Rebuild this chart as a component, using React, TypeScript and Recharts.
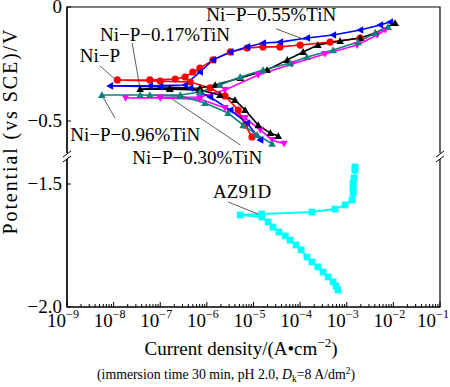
import React from 'react';
import {
  LineChart,
  Line,
  XAxis,
  YAxis,
  ReferenceArea,
  ReferenceLine,
  ReferenceDot,
} from 'recharts';

const W = 450;
const H = 387;
const FONT = '"Liberation Serif", "Times New Roman", serif';

// current density (A/cm2) and potential (V vs SCE), in sweep order
const NIP_I = [9.3e-6, 6.6e-6, 4.7e-6, 2.45e-6, 1.17e-6, 4.4e-7, 1.0e-7, 1.2e-8, 6.0e-8, 2.1e-7, 3.4e-7, 5.0e-7, 7.1e-7, 1.36e-6, 3.2e-6, 7.3e-6, 1.6e-5, 3.7e-5, 1.0e-4, 4.4e-4, 1.94e-3];
const NIP_E = [-0.57, -0.518, -0.452, -0.39, -0.355, -0.329, -0.325, -0.32, -0.32, -0.316, -0.307, -0.285, -0.268, -0.232, -0.197, -0.18, -0.175, -0.175, -0.167, -0.154, -0.136];

const TIN055_I = [1.4e-5, 7.3e-6, 3.2e-6, 1.17e-6, 4.4e-7, 1.0e-7, 8.4e-9, 6.0e-8, 3.4e-7, 7.1e-7, 1.36e-6, 3.2e-6, 7.3e-6, 1.6e-5, 3.7e-5, 1.4e-4, 5.1e-4, 1.94e-3, 5.2e-3, 8.5e-3];
const TIN055_E = [-0.583, -0.509, -0.452, -0.395, -0.355, -0.35, -0.346, -0.346, -0.342, -0.285, -0.232, -0.197, -0.175, -0.158, -0.154, -0.136, -0.123, -0.101, -0.079, -0.066];

const TIN017_I = [3.4e-5, 2.3e-5, 1.26e-5, 6.6e-6, 4.0e-6, 1.9e-6, 7.1e-7, 1.6e-7, 3.7e-8, 1.6e-7, 7.1e-7, 1.5e-6, 5.2e-6, 1.96e-5, 5.3e-5, 1.16e-4, 2.4e-4, 7.2e-4, 1.94e-3, 4.1e-3, 1.09e-2];
const TIN017_E = [-0.566, -0.553, -0.518, -0.452, -0.408, -0.386, -0.364, -0.36, -0.36, -0.357, -0.355, -0.342, -0.311, -0.276, -0.232, -0.197, -0.167, -0.149, -0.136, -0.114, -0.07];

const TIN096_I = [2.5e-5, 1.2e-5, 6.0e-6, 2.85e-6, 9.1e-7, 2.7e-7, 3.7e-8, 5.6e-9, 6.0e-8, 2.7e-7, 7.1e-7, 1.9e-6, 5.2e-6, 1.6e-5, 6.1e-5, 1.4e-4, 5.1e-4, 1.76e-3, 4.1e-3, 7.7e-3];
const TIN096_E = [-0.6, -0.561, -0.518, -0.465, -0.421, -0.39, -0.386, -0.386, -0.386, -0.386, -0.373, -0.342, -0.307, -0.276, -0.246, -0.219, -0.189, -0.154, -0.114, -0.088];

const TIN030_I = [4.5e-5, 2.5e-5, 1.4e-5, 6.6e-6, 2.45e-6, 7.1e-7, 1.0e-7, 1.8e-8, 1.0e-7, 7.1e-7, 2.45e-6, 1.26e-5, 6.7e-5, 3.4e-4, 1.67e-3, 4.5e-3, 6.7e-3];
const TIN030_E = [-0.6, -0.583, -0.539, -0.487, -0.443, -0.404, -0.399, -0.399, -0.397, -0.395, -0.364, -0.298, -0.25, -0.206, -0.167, -0.123, -0.101];

const AZ_I = [6.5e-4, 5.9e-4, 5.1e-4, 4.0e-4, 3.1e-4, 2.4e-4, 1.8e-4, 1.4e-4, 1.05e-4, 8.2e-5, 6.1e-5, 4.8e-5, 3.5e-5, 2.6e-5, 2.06e-5, 1.5e-5, 5.2e-6, 1.5e-5, 1.8e-4, 5.6e-4, 9.2e-4, 1.3e-3, 1.37e-3, 1.37e-3, 1.37e-3, 1.44e-3, 1.5e-3, 1.5e-3];
const AZ_E = [-1.931, -1.915, -1.898, -1.878, -1.858, -1.837, -1.817, -1.797, -1.768, -1.748, -1.728, -1.711, -1.695, -1.675, -1.654, -1.634, -1.626, -1.622, -1.614, -1.602, -1.585, -1.565, -1.537, -1.516, -1.496, -1.476, -1.443, -1.431];

// curve labels and their leader lines
const NOTE_TEXT = ['Ni\u2212P\u22120.55%TiN', 'Ni\u2212P\u22120.17%TiN', 'Ni\u2212P', 'Ni\u2212P\u22120.96%TiN', 'Ni\u2212P\u22120.30%TiN', 'AZ91D'];
const NOTE_I = [2.4e-5, 1.27e-7, 5.1e-9, 2.9e-8, 6.2e-7, 5.7e-6];
const NOTE_E = [-0.031, -0.118, -0.211, -0.557, -0.658, -1.528];
const LEAD_I1 = [3.05e-5, 2.5e-8, 5.1e-9, 1.07e-8, 1.8e-7, 2.85e-6];
const LEAD_E1 = [-0.096, -0.158, -0.259, -0.487, -0.404, -1.573];
const LEAD_I2 = [1.35e-4, 3.7e-8, 1.07e-8, 5.9e-9, 5.2e-6, 1.4e-5];
const LEAD_E2 = [-0.145, -0.36, -0.316, -0.395, -0.605, -1.626];

const X_DECADES = [-9, -8, -7, -6, -5, -4, -3, -2, -1];
const Y_TICK_E = [0, -0.5, -1.5, -2.0];
const Y_TICK_LABELS = ['0', '\u22120.5', '\u22121.5', '\u22122.0'];

// broken potential axis: upper part 0..-0.66 V, lower part -1.4..-2.0 V
const TOP_PX = 228;
const BOT_PX = 246;
const BOT_OFFSET = 177;
const brk = (e: number) => (e > -1 ? e * TOP_PX : -BOT_OFFSET + (e + 1.5) * BOT_PX);

const rows = (xs: number[], es: number[]) => xs.map((i, k) => ({ i, v: brk(es[k]) }));

const X_TICKS: number[] = [];
X_DECADES.forEach((n) => {
  if (n === -1) {
    X_TICKS.push(Math.pow(10, n));
    return;
  }
  for (let k = 1; k <= 9; k++) X_TICKS.push(k * Math.pow(10, n));
});
const Y_TICKS = Y_TICK_E.map(brk);

const XTick = (props: any) => {
  const { x, y, payload } = props;
  const lg = Math.log10(payload.value);
  const major = Math.abs(lg - Math.round(lg)) < 1e-6;
  // keep the last label inside the page
  const tx = Math.min(x - 4, 433);
  return (
    <g>
      <line x1={x} x2={x} y1={y} y2={y - (major ? 5 : 3)} stroke="#000" strokeWidth={1} />
      {major && (
        <text x={tx} y={y + 20} textAnchor="middle" fontSize={19} fontFamily={FONT} fill="#000">
          10
          <tspan dy={-9} fontSize={12}>
            {'\u2212' + Math.abs(Math.round(lg))}
          </tspan>
        </text>
      )}
    </g>
  );
};

const YTick = (props: any) => {
  const { x, y, payload } = props;
  const idx = Y_TICKS.findIndex((t) => Math.abs(t - payload.value) < 1e-6);
  return (
    <g>
      <line x1={x} x2={x + 4} y1={y} y2={y} stroke="#000" strokeWidth={1} />
      <text x={x - 5} y={y + 5.5} textAnchor="end" fontSize={19} fontFamily={FONT} fill="#000">
        {idx >= 0 ? Y_TICK_LABELS[idx] : ''}
      </text>
    </g>
  );
};

const marker = (kind: string, color: string) => (props: any) => {
  const { cx, cy, index } = props;
  if (cx == null || cy == null) return <g key={index} />;
  const s = 3.8;
  if (kind === 'circle') return <circle key={index} cx={cx} cy={cy} r={3.6} fill={color} />;
  if (kind === 'square')
    return <rect key={index} x={cx - 3.4} y={cy - 3.4} width={6.8} height={6.8} fill={color} />;
  let d = '';
  if (kind === 'up') d = `M${cx},${cy - s}L${cx + s},${cy + s * 0.8}L${cx - s},${cy + s * 0.8}Z`;
  if (kind === 'down') d = `M${cx},${cy + s}L${cx + s},${cy - s * 0.8}L${cx - s},${cy - s * 0.8}Z`;
  if (kind === 'left') d = `M${cx - s},${cy}L${cx + s * 0.8},${cy - s}L${cx + s * 0.8},${cy + s}Z`;
  return <path key={index} d={d} fill={color} />;
};

const SERIES = [
  { name: 'Ni-P-0.30%TiN', xs: TIN030_I, es: TIN030_E, color: '#ff00ff', kind: 'down' },
  { name: 'Ni-P', xs: NIP_I, es: NIP_E, color: '#ff0000', kind: 'circle' },
  { name: 'Ni-P-0.55%TiN', xs: TIN055_I, es: TIN055_E, color: '#0000ff', kind: 'left' },
  { name: 'Ni-P-0.17%TiN', xs: TIN017_I, es: TIN017_E, color: '#000000', kind: 'up' },
  { name: 'Ni-P-0.96%TiN', xs: TIN096_I, es: TIN096_E, color: '#0f8080', kind: 'up' },
  { name: 'AZ91D', xs: AZ_I, es: AZ_E, color: '#00ffff', kind: 'square' },
];

// plot box: x 67..440, y 7..307
const breakMarks = (ax: number) => (
  <g key={ax}>
    <line x1={ax} x2={ax} y1={153} y2={159} stroke="#fff" strokeWidth={4} />
    <line x1={ax - 4} y1={157} x2={ax + 4} y2={151} stroke="#000" strokeWidth={1} />
    <line x1={ax - 4} y1={162} x2={ax + 4} y2={156} stroke="#000" strokeWidth={1} />
  </g>
);

export default function App() {
  return (
    <div style={{ position: 'absolute', left: 0, top: 0, width: W, height: H, background: '#fff' }}>
      <LineChart
        width={W}
        height={H}
        margin={{ top: 7, right: 10, bottom: 0, left: 0 }}
        style={{ fontFamily: FONT }}
      >
        <XAxis
          dataKey="i"
          type="number"
          scale="log"
          domain={[1e-9, 1e-1]}
          allowDataOverflow
          ticks={X_TICKS}
          interval={0}
          tick={<XTick />}
          tickLine={false}
          tickSize={0}
          tickMargin={0}
          height={80}
          axisLine={{ stroke: '#000', strokeWidth: 1.2 }}
        />
        <YAxis
          type="number"
          domain={[brk(-2.0), 0]}
          allowDataOverflow
          ticks={Y_TICKS}
          interval={0}
          tick={<YTick />}
          tickLine={false}
          tickSize={0}
          tickMargin={0}
          width={67}
          axisLine={{ stroke: '#000', strokeWidth: 1.2 }}
        />
        <ReferenceArea
          x1={1e-9}
          x2={1e-1}
          y1={brk(-2.0)}
          y2={0}
          fill="none"
          fillOpacity={0}
          stroke="#000"
          strokeWidth={1.2}
          ifOverflow="visible"
        />
        {SERIES.map((s) => (
          <Line
            key={s.name}
            name={s.name}
            data={rows(s.xs, s.es)}
            dataKey="v"
            type="linear"
            stroke={s.color}
            strokeWidth={s.kind === 'square' ? 2 : 1.6}
            dot={marker(s.kind, s.color)}
            activeDot={false}
            isAnimationActive={false}
          />
        ))}
        {NOTE_TEXT.map((t, k) => (
          <ReferenceLine
            key={'lead' + k}
            segment={[
              { x: LEAD_I1[k], y: brk(LEAD_E1[k]) },
              { x: LEAD_I2[k], y: brk(LEAD_E2[k]) },
            ]}
            stroke="#333"
            strokeWidth={0.8}
            ifOverflow="visible"
          />
        ))}
        {NOTE_TEXT.map((t, k) => (
          <ReferenceDot
            key={'note' + k}
            x={NOTE_I[k]}
            y={brk(NOTE_E[k])}
            r={0}
            ifOverflow="visible"
            shape={(p: any) => (
              <text
                x={p.cx}
                y={p.cy}
                dy="0.35em"
                textAnchor="middle"
                fontSize={19}
                fontFamily={FONT}
                fill="#000"
              >
                {t}
              </text>
            )}
          />
        ))}
      </LineChart>
      <svg
        width={W}
        height={H}
        style={{ position: 'absolute', left: 0, top: 0, pointerEvents: 'none' }}
        fontFamily={FONT}
      >
        {[67, 440].map(breakMarks)}
        <text
          transform="translate(17,132) rotate(-90)"
          textAnchor="middle"
          fontSize={20}
          fill="#000"
          textLength={205}
          lengthAdjust="spacing"
        >
          Potential (vs SCE)/V
        </text>
        <text x={241} y={355} textAnchor="middle" fontSize={19} fill="#000">
          Current density/(A•cm
          <tspan dy={-8} fontSize={13}>
            {'\u22122'}
          </tspan>
          <tspan dy={8}>)</tspan>
        </text>
        <text x={226} y={379} textAnchor="middle" fontSize={13.8} fill="#000">
          (immersion time 30 min, pH 2.0, <tspan fontStyle="italic">D</tspan>
          <tspan dy={3} fontSize={9.5}>
            k
          </tspan>
          <tspan dy={-3}>=8 A/dm</tspan>
          <tspan dy={-5} fontSize={9.5}>
            2
          </tspan>
          <tspan dy={5}>)</tspan>
        </text>
      </svg>
    </div>
  );
}
